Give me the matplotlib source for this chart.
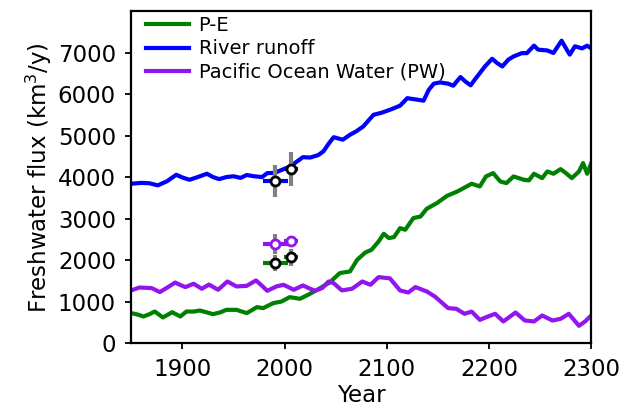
import numpy as np
from matplotlib import pyplot as plt

# values (year, km3/y)
river_year = [1850, 1860, 1868, 1876, 1885, 1894, 1900, 1907, 1915, 1924, 1930, 1936,
              1943, 1950, 1957, 1963, 1970, 1978, 1983, 1990, 1996, 2003, 2009, 2018,
              2025, 2033, 2038, 2043, 2048, 2057, 2064, 2070, 2077, 2087, 2095, 2103,
              2113, 2120, 2131, 2136, 2141, 2146, 2152, 2160, 2165, 2172, 2177, 2182,
              2186, 2191, 2196, 2203, 2208, 2213, 2219, 2224, 2232, 2237, 2244, 2248,
              2257, 2263, 2271, 2276, 2279, 2284, 2291, 2296, 2300]
river_val = [3840, 3860, 3850, 3800, 3900, 4055, 3990, 3935, 4000, 4080, 4000, 3950,
             4000, 4020, 3980, 4050, 4020, 4000, 4095, 4100, 4160, 4230, 4320, 4480,
             4470, 4530, 4620, 4800, 4960, 4900, 5020, 5100, 5220, 5500, 5550, 5620,
             5720, 5900, 5860, 5840, 6100, 6250, 6280, 6250, 6200, 6410, 6300, 6210,
             6345, 6505, 6665, 6850, 6745, 6665, 6830, 6905, 6985, 6985, 7165, 7070,
             7050, 6990, 7285, 7070, 6950, 7150, 7100, 7165, 7100]

pe_year = [1850, 1856, 1862, 1868, 1873, 1881, 1890, 1898, 1904, 1911, 1917, 1924,
           1930, 1937, 1943, 1953, 1963, 1973, 1979, 1989, 1997, 2005, 2015, 2023,
           2033, 2044, 2054, 2064, 2071, 2079, 2085, 2092, 2097, 2102, 2107, 2113,
           2118, 2126, 2133, 2139, 2149, 2159, 2169, 2177, 2183, 2191, 2197, 2204,
           2211, 2217, 2224, 2234, 2239, 2244, 2252, 2257, 2263, 2270, 2276, 2281,
           2288, 2292, 2296, 2300]
pe_val = [723, 690, 642, 700, 762, 618, 745, 642, 762, 760, 786, 740,
          698, 740, 802, 802, 723, 867, 843, 964, 1002, 1108, 1068, 1164,
          1300, 1460, 1687, 1727, 2007, 2183, 2248, 2450, 2634, 2530, 2554, 2771,
          2731, 3012, 3050, 3236, 3373, 3549, 3653, 3759, 3839, 3775, 4015, 4096,
          3894, 3855, 4015, 3935, 3920, 4080, 3975, 4135, 4080, 4192, 4080, 3975,
          4135, 4337, 4080, 4337]

pw_year = [1850, 1858, 1866, 1870, 1878, 1886, 1893, 1898, 1903, 1911, 1919, 1926,
           1935, 1944, 1953, 1963, 1972, 1978, 1983, 1992, 1999, 2009, 2018, 2024,
           2030, 2037, 2043, 2048, 2056, 2066, 2076, 2084, 2092, 2103, 2113, 2121,
           2128, 2139, 2147, 2160, 2168, 2176, 2183, 2191, 2199, 2206, 2214, 2226,
           2235, 2244, 2252, 2262, 2270, 2278, 2288, 2294, 2300]
pw_val = [1270, 1340, 1330, 1325, 1230, 1350, 1460, 1400, 1350, 1430, 1310, 1410,
          1285, 1485, 1365, 1380, 1510, 1380, 1260, 1365, 1405, 1285, 1390, 1320,
          1260, 1330, 1485, 1445, 1270, 1310, 1485, 1405, 1590, 1560, 1268, 1220,
          1350, 1245, 1123, 843, 827, 706, 760, 561, 642, 706, 522, 738,
          545, 522, 666, 545, 585, 706, 417, 522, 666]

# observational estimates
obs_year = [1991, 2006]
obs_xerr = [12, 7]
river_obs = [3910, 4190]
river_err = [380, 415]
pe_obs = [1930, 2065]
pe_err = [200, 210]
pw_obs = [2390, 2460]
pw_err = [240, 130]

c_pe = 'green'
c_river = 'blue'
c_pw = '#9315ee'

fig = plt.figure(figsize=(6.25, 4.08), dpi=100)
ax = fig.add_axes([0.21, 0.159, 0.736, 0.814])

ax.plot(pe_year, pe_val, color=c_pe, lw=3, label='P-E')
ax.plot(river_year, river_val, color=c_river, lw=3, label='River runoff')
ax.plot(pw_year, pw_val, color=c_pw, lw=3, label='Pacific Ocean Water (PW)')

for obs, err, c, edge in [(river_obs, river_err, c_river, 'k'),
                          (pe_obs, pe_err, c_pe, 'k'),
                          (pw_obs, pw_err, c_pw, c_pw)]:
    ax.errorbar(obs_year, obs, yerr=err, fmt='none', ecolor='gray', elinewidth=3, zorder=4)
    ax.errorbar(obs_year, obs, xerr=obs_xerr, fmt='none', ecolor=c, elinewidth=3, zorder=4)
    ax.plot(obs_year, obs, 'o', ms=6.5, mfc='white', mec=edge, mew=2, zorder=5)

ax.set_xlim(1850, 2300)
ax.set_ylim(0, 8000)
ax.set_xticks([1900, 2000, 2100, 2200, 2300])
ax.set_yticks(np.arange(0, 8000, 1000))
ax.tick_params(labelsize=16.5, width=1.3, length=4, pad=7)
for s in ax.spines.values():
    s.set_linewidth(1.6)
ax.set_xlabel('Year', fontsize=16.5, labelpad=2.2)
ax.set_ylabel('Freshwater flux (km$^3$/y)', fontsize=16.5, labelpad=3)

ax.legend(loc='upper left', bbox_to_anchor=(0.03, 0.988), frameon=False, fontsize=14,
          borderaxespad=0, borderpad=0.05, handlelength=2.2, handletextpad=0.5,
          labelspacing=0.23)

plt.savefig('out.png', dpi=100)
